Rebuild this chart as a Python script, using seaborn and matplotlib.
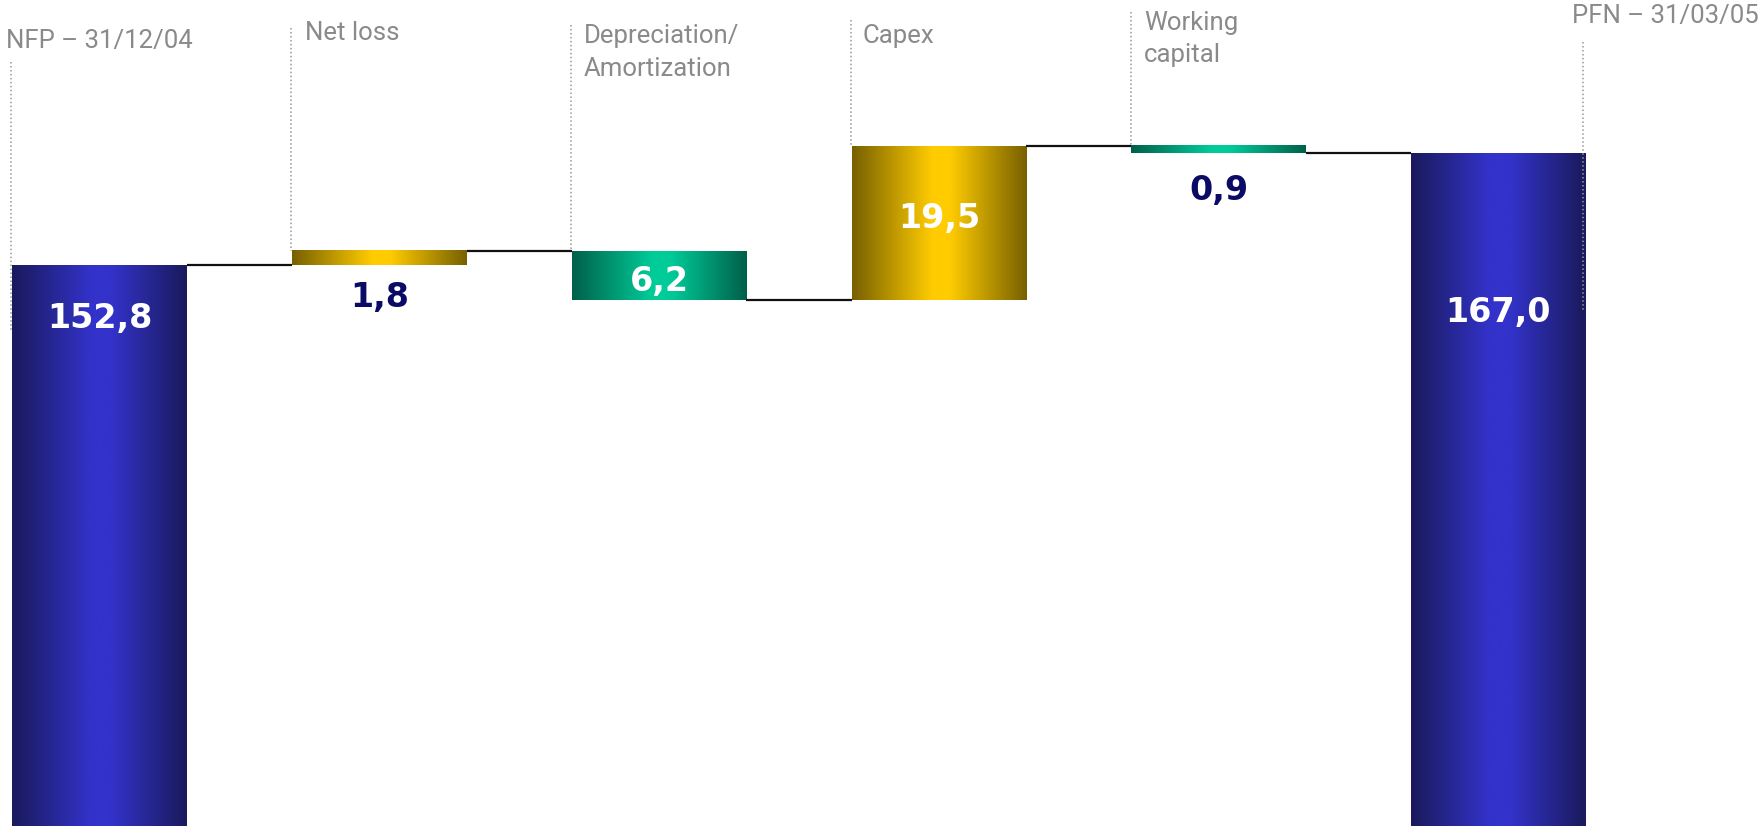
import numpy as np
import matplotlib
matplotlib.use("Agg")
import matplotlib.pyplot as plt
import seaborn as sns
from matplotlib.colors import LinearSegmentedColormap

# ---------------- data ----------------
categories = ["NFP – 31/12/04", "Net loss", "Depreciation/\nAmortization",
              "Capex", "Working\ncapital", "PFN – 31/03/05"]
start_value = 152.8
deltas = [1.8, -6.2, 19.5, -0.9]
end_value = 167.0
value_labels = ["152,8", "1,8", "6,2", "19,5", "0,9", "167,0"]

# ---------------- layout / style ----------------
W, H = 1762, 826
YMIN, YMAX = 81.7, 186.4
XMIN, XMAX = -0.356, 5.942
BAR_W = 0.624

# category label placement (pixels from top-left): x, first baseline, line spacing, ha
cat_layout = [(6, 48, 33, "left"), (305, 40, 33, "left"), (584, 43, 33, "left"),
              (862, 43, 33, "left"), (1144, 30, 32, "left"), (1759, 23, 33, "right")]
# dotted guide lines: top (px from top); bottom px for end bars (None -> bar top)
guide_top = [62, 28, 25, 20, 12, 42]
guide_bottom = [330, None, None, None, None, 312]
# value label offsets in points (anchor, offset)
value_offsets = [("top", -45), ("bottom", -30), ("mid", -11.5), ("mid", -3.5),
                 ("bottom", -34), ("top", -122)]

gradients = {
    "total": ["#1a1a5c", "#3333cc", "#3333cc", "#1a1a5c"],
    "up": ["#776000", "#ffcc00", "#ffcc00", "#776000"],
    "down": ["#00604a", "#00cc99", "#00cc99", "#00604a"],
}
GRAY = "#8a8a8a"
NAVY = "#0b0b66"

# ---------------- derived waterfall geometry ----------------
running = [start_value]
for d in deltas:
    running.append(running[-1] + d)
bottoms = [0.0]
tops = [start_value]
kinds = ["total"]
for i, d in enumerate(deltas):
    a, b = running[i], running[i + 1]
    bottoms.append(min(a, b))
    tops.append(max(a, b))
    kinds.append("up" if d > 0 else "down")
bottoms.append(0.0)
tops.append(end_value)
kinds.append("total")
levels = running + [end_value]

sns.set_style("white")
plt.rcParams["font.family"] = ["DejaVu Sans"]

fig = plt.figure(figsize=(W / 100, H / 100), dpi=100)
ax = fig.add_axes([0, 0, 1, 1])

heights = [t - b for t, b in zip(tops, bottoms)]
sns.barplot(x=list(range(len(categories))), y=heights, ax=ax, width=BAR_W,
            errorbar=None, color="white", native_scale=True)


def px2y(py):
    return YMAX - py * (YMAX - YMIN) / H


for i, p in enumerate(ax.patches):
    p.set_y(bottoms[i])
    p.set_height(heights[i])
    p.set_facecolor("none")
    p.set_edgecolor("none")
    x0 = p.get_x()
    x1 = x0 + p.get_width()
    cmap = LinearSegmentedColormap.from_list(
        "g%d" % i, list(zip([0, 0.46, 0.56, 1.0], gradients[kinds[i]])))
    grad = np.linspace(0, 1, 256)[None, :]
    ax.imshow(grad, cmap=cmap, extent=[x0, x1, bottoms[i], tops[i]],
              aspect="auto", zorder=2, interpolation="bicubic")

# connectors
for i in range(len(categories) - 1):
    ax.plot([i + BAR_W / 2, i + 1 - BAR_W / 2], [levels[i], levels[i]],
            color="#111111", lw=1.6, zorder=3, solid_capstyle="butt")

# dotted guides
for i in range(len(categories)):
    gx = i - BAR_W / 2 if i < len(categories) - 1 else i + BAR_W / 2
    gx = gx - 0.003 if i < len(categories) - 1 else gx - 0.01
    yb = tops[i] if guide_bottom[i] is None else px2y(guide_bottom[i])
    ax.plot([gx, gx], [px2y(guide_top[i]), yb], color="#999999", lw=1.1,
            linestyle=(0, (1, 1.6)), zorder=4)

# category labels
for i, lab in enumerate(categories):
    xpx, base, step, ha = cat_layout[i]
    for k, line in enumerate(lab.split("\n")):
        fig.text(xpx / W, 1 - (base + k * step) / H, line, ha=ha, va="baseline",
                 fontsize=18.5, color=GRAY, family=["Roboto", "DejaVu Sans"])

# value labels
for i, txt in enumerate(value_labels):
    anchor, off = value_offsets[i]
    if anchor == "top":
        y = tops[i]
    elif anchor == "bottom":
        y = bottoms[i]
    else:
        y = (tops[i] + bottoms[i]) / 2
    col = NAVY if anchor == "bottom" else "white"
    ax.annotate(txt, xy=(i, y), xytext=(0, off), textcoords="offset points",
                ha="center", va="baseline", fontsize=24, fontweight="bold",
                color=col, zorder=5)

ax.set_xlim(XMIN, XMAX)
ax.set_ylim(YMIN, YMAX)
ax.axis("off")

fig.savefig("out.png", dpi=100, facecolor="white")
